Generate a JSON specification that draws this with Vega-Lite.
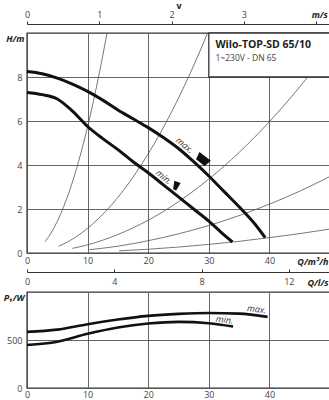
{
  "$schema": "https://vega.github.io/schema/vega-lite/v6.json",
  "padding": {"left": 2, "top": 0, "right": 0, "bottom": 0},
  "spacing": 39,
  "bounds": "flush",
  "config": {
    "font": "Open Sans",
    "view": {"stroke": "#333", "strokeWidth": 1.4},
    "axis": {"labelFont": "Open Sans", "labelFontSize": 9, "labelColor": "#444", "labelFlush": false, "labelOverlap": false, "gridColor": "#555", "gridWidth": 0.9, "ticks": false, "domain": false, "titleFont": "Open Sans", "titleFontSize": 9, "titleColor": "#222", "titleFontWeight": "bold", "titleFontStyle": "italic"}
  },
  "datasets": {
    "sys": [
      {"id": 1, "Q": 3, "H": 0.52}, {"id": 1, "Q": 4, "H": 0.92}, {"id": 1, "Q": 5, "H": 1.44}, {"id": 1, "Q": 6, "H": 2.07}, {"id": 1, "Q": 7, "H": 2.81}, {"id": 1, "Q": 8, "H": 3.67}, {"id": 1, "Q": 9, "H": 4.65}, {"id": 1, "Q": 10, "H": 5.74}, {"id": 1, "Q": 11, "H": 6.95}, {"id": 1, "Q": 12, "H": 8.27}, {"id": 1, "Q": 13, "H": 9.7}, {"id": 1, "Q": 13.2, "H": 10.0},
      {"id": 2, "Q": 5.2, "H": 0.3}, {"id": 2, "Q": 7, "H": 0.55}, {"id": 2, "Q": 9, "H": 0.91}, {"id": 2, "Q": 11, "H": 1.36}, {"id": 2, "Q": 13, "H": 1.9}, {"id": 2, "Q": 15, "H": 2.53}, {"id": 2, "Q": 17, "H": 3.25}, {"id": 2, "Q": 19, "H": 4.07}, {"id": 2, "Q": 21, "H": 4.97}, {"id": 2, "Q": 23, "H": 5.96}, {"id": 2, "Q": 25, "H": 7.04}, {"id": 2, "Q": 27, "H": 8.21}, {"id": 2, "Q": 29, "H": 9.47}, {"id": 2, "Q": 29.8, "H": 10.0},
      {"id": 3, "Q": 7.5, "H": 0.21}, {"id": 3, "Q": 10, "H": 0.37}, {"id": 3, "Q": 15, "H": 0.84}, {"id": 3, "Q": 20, "H": 1.49}, {"id": 3, "Q": 25, "H": 2.33}, {"id": 3, "Q": 30, "H": 3.36}, {"id": 3, "Q": 35, "H": 4.57}, {"id": 3, "Q": 40, "H": 5.97}, {"id": 3, "Q": 45, "H": 7.55}, {"id": 3, "Q": 48, "H": 8.59},
      {"id": 4, "Q": 10.3, "H": 0.15}, {"id": 4, "Q": 15, "H": 0.31}, {"id": 4, "Q": 20, "H": 0.56}, {"id": 4, "Q": 25, "H": 0.87}, {"id": 4, "Q": 30, "H": 1.25}, {"id": 4, "Q": 35, "H": 1.7}, {"id": 4, "Q": 40, "H": 2.22}, {"id": 4, "Q": 45, "H": 2.81}, {"id": 4, "Q": 50, "H": 3.48},
      {"id": 5, "Q": 15.2, "H": 0.1}, {"id": 5, "Q": 20, "H": 0.17}, {"id": 5, "Q": 25, "H": 0.27}, {"id": 5, "Q": 30, "H": 0.39}, {"id": 5, "Q": 35, "H": 0.53}, {"id": 5, "Q": 40, "H": 0.7}, {"id": 5, "Q": 45, "H": 0.88}, {"id": 5, "Q": 50, "H": 1.09}
    ],
    "Hc": [
      {"series": "max", "Q": 0, "H": 8.25}, {"series": "max", "Q": 2.5, "H": 8.15}, {"series": "max", "Q": 5, "H": 7.95}, {"series": "max", "Q": 7.5, "H": 7.68}, {"series": "max", "Q": 10, "H": 7.35}, {"series": "max", "Q": 12.5, "H": 6.95}, {"series": "max", "Q": 15, "H": 6.5}, {"series": "max", "Q": 17.5, "H": 6.1}, {"series": "max", "Q": 20, "H": 5.7}, {"series": "max", "Q": 22.5, "H": 5.25}, {"series": "max", "Q": 25, "H": 4.75}, {"series": "max", "Q": 27.5, "H": 4.15}, {"series": "max", "Q": 30, "H": 3.5}, {"series": "max", "Q": 32.5, "H": 2.8}, {"series": "max", "Q": 35, "H": 2.1}, {"series": "max", "Q": 37.5, "H": 1.35}, {"series": "max", "Q": 39.3, "H": 0.7},
      {"series": "min", "Q": 0, "H": 7.3}, {"series": "min", "Q": 2.5, "H": 7.2}, {"series": "min", "Q": 5, "H": 7.0}, {"series": "min", "Q": 7.5, "H": 6.45}, {"series": "min", "Q": 10, "H": 5.75}, {"series": "min", "Q": 12.5, "H": 5.2}, {"series": "min", "Q": 15, "H": 4.7}, {"series": "min", "Q": 17.5, "H": 4.15}, {"series": "min", "Q": 20, "H": 3.65}, {"series": "min", "Q": 22.5, "H": 3.1}, {"series": "min", "Q": 25, "H": 2.55}, {"series": "min", "Q": 27.5, "H": 2.0}, {"series": "min", "Q": 30, "H": 1.45}, {"series": "min", "Q": 32, "H": 0.95}, {"series": "min", "Q": 33.9, "H": 0.5}
    ],
    "Pc": [
      {"series": "max", "Q": 0, "P": 585}, {"series": "max", "Q": 5, "P": 608}, {"series": "max", "Q": 10, "P": 665}, {"series": "max", "Q": 15, "P": 713}, {"series": "max", "Q": 20, "P": 751}, {"series": "max", "Q": 25, "P": 772}, {"series": "max", "Q": 30, "P": 782}, {"series": "max", "Q": 35, "P": 775}, {"series": "max", "Q": 39.7, "P": 741},
      {"series": "min", "Q": 0, "P": 448}, {"series": "min", "Q": 5, "P": 482}, {"series": "min", "Q": 10, "P": 565}, {"series": "min", "Q": 15, "P": 631}, {"series": "min", "Q": 20, "P": 672}, {"series": "min", "Q": 25, "P": 689}, {"series": "min", "Q": 30, "P": 674}, {"series": "min", "Q": 34, "P": 640}
    ],
    "notes": [
      {"kind": "title", "Q": 31.1, "H": 9.45, "text": "Wilo-TOP-SD 65/10"},
      {"kind": "sub", "Q": 31.1, "H": 8.85, "text": "1~230V - DN 65"},
      {"kind": "curve", "Q": 26.0, "H": 4.9, "text": "max."},
      {"kind": "curve", "Q": 22.6, "H": 3.45, "text": "min."}
    ],
    "symbols": [
      {"kind": "max", "Q": 29.0, "H": 4.25},
      {"kind": "min", "Q": 24.6, "H": 3.05}
    ],
    "box": [{"Q": 30, "Q2": 50, "H": 8, "H2": 10}],
    "plabels": [
      {"Q": 37.9, "P": 820, "text": "max."},
      {"Q": 32.6, "P": 711, "text": "min."}
    ]
  },
  "vconcat": [
    {
      "width": 303,
      "height": 220,
      "layer": [
        {
          "encoding": {
            "x": {"field": "Q", "type": "quantitative", "scale": {"domain": [0, 50], "nice": false},
              "axis": {"values": [0, 10, 20, 30, 40], "labelPadding": 3, "title": "Q/m³/h", "titleX": 301, "titleY": 8, "titleAlign": "right", "titleBaseline": "middle"}},
            "y": {"field": "H", "type": "quantitative", "scale": {"domain": [0, 10], "nice": false},
              "axis": {"values": [0, 2, 4, 6, 8], "labelPadding": 5, "title": "H/m", "titleAngle": 0, "titleX": -3, "titleY": 5, "titleAlign": "right", "titleBaseline": "middle"}}
          },
          "layer": [
            {"data": {"name": "sys"}, "mark": {"type": "line", "stroke": "#555", "strokeWidth": 0.8, "interpolate": "monotone"}, "encoding": {"detail": {"field": "id"}}},
            {"data": {"name": "box"}, "mark": {"type": "rect", "fill": "white", "stroke": "#333", "strokeWidth": 1.3}, "encoding": {"x2": {"field": "Q2"}, "y2": {"field": "H2"}}},
            {"data": {"name": "notes"}, "transform": [{"filter": "datum.kind == 'title'"}], "mark": {"type": "text", "align": "left", "baseline": "middle", "fontSize": 10.5, "fontWeight": "bold", "fill": "#222"}, "encoding": {"text": {"field": "text"}}},
            {"data": {"name": "notes"}, "transform": [{"filter": "datum.kind == 'sub'"}], "mark": {"type": "text", "align": "left", "baseline": "middle", "fontSize": 8.5, "fill": "#444"}, "encoding": {"text": {"field": "text"}}},
            {"data": {"name": "Hc"}, "mark": {"type": "line", "stroke": "#111", "strokeWidth": 3, "interpolate": "monotone"}, "encoding": {"detail": {"field": "series"}}},
            {"data": {"name": "notes"}, "transform": [{"filter": "datum.kind == 'curve'"}], "mark": {"type": "text", "align": "center", "baseline": "middle", "fontSize": 9, "fontStyle": "italic", "angle": 40, "fill": "#333"}, "encoding": {"text": {"field": "text"}}},
            {"data": {"name": "symbols"}, "transform": [{"filter": "datum.kind == 'max'"}], "mark": {"type": "point", "shape": "M -1 -0.55 L 1 -0.55 L 0.75 0.55 L -0.75 0.55 Z", "filled": true, "fill": "#111", "opacity": 1, "size": 210, "angle": 38}},
            {"data": {"name": "symbols"}, "transform": [{"filter": "datum.kind == 'min'"}], "mark": {"type": "point", "shape": "M -0.8 -1 L 0.8 -1 L 0.4 1 L -0.4 1 Z", "filled": true, "fill": "#111", "opacity": 1, "size": 70, "angle": 20}}
          ]
        },
        {
          "data": {"values": [{}]},
          "mark": {"type": "point", "opacity": 0},
          "encoding": {
            "x": {"datum": 0, "type": "quantitative", "scale": {"domain": [0, 4.19], "nice": false},
              "axis": {"orient": "top", "offset": 9, "values": [0, 1, 2, 3, 4], "grid": false, "domain": true, "domainColor": "#333", "domainWidth": 1.2, "ticks": true, "tickSize": 3, "tickColor": "#333",
                "labelPadding": 1.5, "labelExpr": "datum.value == 4 ? 'm/s' : datum.label",
                "labelFontWeight": {"condition": {"test": "datum.value == 4", "value": "bold"}, "value": "normal"},
                "labelFontStyle": {"condition": {"test": "datum.value == 4", "value": "italic"}, "value": "normal"},
                "labelColor": {"condition": {"test": "datum.value == 4", "value": "#222"}, "value": "#444"},
                "labelOffset": {"condition": {"test": "datum.value == 4", "value": 3}, "value": 0},
                "title": "v", "titleY": -19, "titleBaseline": "middle", "titleFontStyle": "normal"}}
          }
        }
      ],
      "resolve": {"scale": {"x": "independent"}}
    },
    {
      "width": 303,
      "height": 96,
      "layer": [
        {
          "data": {"name": "Pc"},
          "encoding": {
            "x": {"field": "Q", "type": "quantitative", "scale": {"domain": [0, 50], "nice": false},
              "axis": {"values": [0, 10, 20, 30, 40], "labelPadding": 2, "title": null}},
            "y": {"field": "P", "type": "quantitative", "scale": {"domain": [0, 1000], "nice": false},
              "axis": {"values": [0, 500], "labelPadding": 5, "title": "P₁/W", "titleAngle": 0, "titleX": -3, "titleY": 5, "titleAlign": "right", "titleBaseline": "middle"}}
          },
          "layer": [
            {"mark": {"type": "line", "stroke": "#111", "strokeWidth": 2.6, "interpolate": "monotone"}, "encoding": {"detail": {"field": "series"}}},
            {"data": {"name": "plabels"}, "mark": {"type": "text", "align": "center", "baseline": "middle", "fontSize": 9, "fontStyle": "italic", "angle": 7, "fill": "#333"}, "encoding": {"text": {"field": "text"}}}
          ]
        },
        {
          "data": {"values": [{}]},
          "mark": {"type": "point", "opacity": 0},
          "encoding": {
            "x": {"datum": 0, "type": "quantitative", "scale": {"domain": [0, 13.89], "nice": false},
              "axis": {"orient": "top", "offset": 20, "values": [0, 4, 8, 12], "grid": false, "domain": true, "domainColor": "#333", "domainWidth": 1.2, "ticks": true, "tickSize": 3, "tickColor": "#333",
                "labelPadding": -8, "labelBaseline": "top",
                "title": "Q/l/s", "titleX": 301, "titleY": 10, "titleAlign": "right", "titleBaseline": "middle"}}
          }
        }
      ],
      "resolve": {"scale": {"x": "independent"}}
    }
  ]
}
